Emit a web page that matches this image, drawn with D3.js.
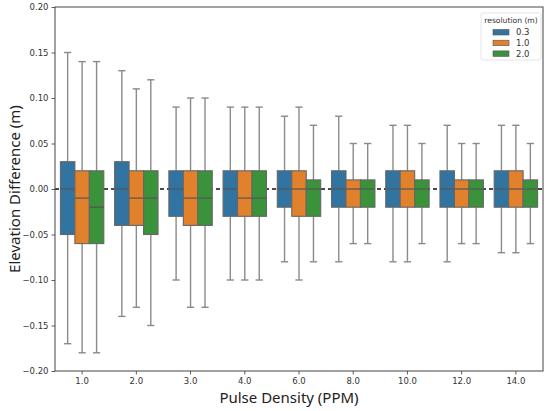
<!DOCTYPE html>
<html>
<head>
<meta charset="utf-8">
<script src="https://d3js.org/d3.v7.min.js"></script>
<style>
  body { margin: 0; background: #fff; }
  .tick text { font-family: "DejaVu Sans", sans-serif; font-size: 8.5px; fill: #333; }
</style>
</head>
<body>
<script>
// pulse density groups and resolution series
const categories = ["1.0", "2.0", "3.0", "4.0", "6.0", "8.0", "10.0", "12.0", "14.0"];
const resolutions = ["0.3", "1.0", "2.0"];
const colors = ["#3274a1", "#e1812c", "#3a923a"];

// rows = pulse density, cols = resolution 0.3 / 1.0 / 2.0
const medians = [
  [0.00, -0.01, -0.02],
  [0.00, -0.01, -0.01],
  [0.00, -0.01, -0.01],
  [0.00, -0.01, -0.01],
  [0.00, 0.00, 0.00],
  [0.00, 0.00, 0.00],
  [0.00, 0.00, 0.00],
  [0.00, 0.00, 0.00],
  [0.00, 0.00, 0.00]
];
const q1 = [
  [-0.05, -0.06, -0.06],
  [-0.04, -0.04, -0.05],
  [-0.03, -0.04, -0.04],
  [-0.03, -0.03, -0.03],
  [-0.02, -0.03, -0.03],
  [-0.02, -0.02, -0.02],
  [-0.02, -0.02, -0.02],
  [-0.02, -0.02, -0.02],
  [-0.02, -0.02, -0.02]
];
const q3 = [
  [0.03, 0.02, 0.02],
  [0.03, 0.02, 0.02],
  [0.02, 0.02, 0.02],
  [0.02, 0.02, 0.02],
  [0.02, 0.02, 0.01],
  [0.02, 0.01, 0.01],
  [0.02, 0.02, 0.01],
  [0.02, 0.01, 0.01],
  [0.02, 0.02, 0.01]
];
const whiskerLow = [
  [-0.17, -0.18, -0.18],
  [-0.14, -0.13, -0.15],
  [-0.10, -0.13, -0.13],
  [-0.10, -0.10, -0.10],
  [-0.08, -0.10, -0.08],
  [-0.08, -0.06, -0.06],
  [-0.08, -0.08, -0.06],
  [-0.08, -0.06, -0.06],
  [-0.07, -0.07, -0.06]
];
const whiskerHigh = [
  [0.15, 0.14, 0.14],
  [0.13, 0.11, 0.12],
  [0.09, 0.10, 0.10],
  [0.09, 0.09, 0.09],
  [0.08, 0.09, 0.07],
  [0.08, 0.05, 0.05],
  [0.07, 0.07, 0.05],
  [0.07, 0.05, 0.05],
  [0.07, 0.07, 0.05]
];
const yTicks = [-0.20, -0.15, -0.10, -0.05, 0.00, 0.05, 0.10, 0.15, 0.20];

let width = 550, height = 411;
let margin = {"top": 7, "right": 7, "bottom": 40, "left": 55};
let chartWidth = width - margin.left - margin.right;
let chartHeight = height - margin.top - margin.bottom;

var svg = d3.select("body").append("svg").attr("width", width).attr("height", height);
let chart = svg.append("g").attr("transform", "translate(" + margin.left + "," + margin.top + ")");

const xScale = d3.scaleBand().domain(categories).range([0, chartWidth]).padding(0);
const hueScale = d3.scaleBand().domain(resolutions).range([0, xScale.bandwidth() * 0.8]).padding(0);
const yScale = d3.scaleLinear().domain([-0.2, 0.2]).range([chartHeight, 0]);
const fmt = d => d3.format(".2f")(d).replace("-", "\u2212");

// zero reference line (behind boxes)
chart.append("line")
  .attr("x1", 0).attr("x2", chartWidth)
  .attr("y1", yScale(0)).attr("y2", yScale(0))
  .attr("stroke", "#111").attr("stroke-width", 1.3)
  .attr("stroke-dasharray", "4,3");

let rows = [];
categories.forEach((c, i) => {
  resolutions.forEach((r, j) => {
    rows.push({cat: c, res: r, j: j, med: medians[i][j], lo: q1[i][j], hi: q3[i][j],
               wl: whiskerLow[i][j], wh: whiskerHigh[i][j]});
  });
});

const bw = hueScale.bandwidth();
const groupOffset = xScale.bandwidth() * 0.1;
let boxes = chart.selectAll(".box").data(rows).enter().append("g")
  .attr("class", "box")
  .attr("transform", d => "translate(" + (xScale(d.cat) + groupOffset + hueScale(d.res)) + ",0)");

// whiskers
boxes.append("line").attr("x1", bw / 2).attr("x2", bw / 2)
  .attr("y1", d => yScale(d.hi)).attr("y2", d => yScale(d.wh))
  .attr("stroke", "#8a8a8a").attr("stroke-width", 1.4);
boxes.append("line").attr("x1", bw / 2).attr("x2", bw / 2)
  .attr("y1", d => yScale(d.lo)).attr("y2", d => yScale(d.wl))
  .attr("stroke", "#8a8a8a").attr("stroke-width", 1.4);
// caps
boxes.append("line").attr("x1", bw / 4).attr("x2", bw * 3 / 4)
  .attr("y1", d => yScale(d.wh)).attr("y2", d => yScale(d.wh))
  .attr("stroke", "#8a8a8a").attr("stroke-width", 1.4);
boxes.append("line").attr("x1", bw / 4).attr("x2", bw * 3 / 4)
  .attr("y1", d => yScale(d.wl)).attr("y2", d => yScale(d.wl))
  .attr("stroke", "#8a8a8a").attr("stroke-width", 1.4);
// box body
boxes.append("rect")
  .attr("x", 0).attr("width", bw)
  .attr("y", d => yScale(d.hi)).attr("height", d => yScale(d.lo) - yScale(d.hi))
  .attr("fill", d => colors[d.j])
  .attr("stroke", "#666").attr("stroke-width", 1.1);
// median
boxes.append("line").attr("x1", 0).attr("x2", bw)
  .attr("y1", d => yScale(d.med)).attr("y2", d => yScale(d.med))
  .attr("stroke", "#555").attr("stroke-width", 1.2);

// axes
let leftAxis = d3.axisLeft(yScale).tickValues(yTicks).tickFormat(fmt).tickSize(3.5).tickPadding(3);
let yAxisG = chart.append("g").call(leftAxis);
let bottomAxis = d3.axisBottom(xScale).tickSize(3.5).tickPadding(3);
let xAxisG = chart.append("g").attr("transform", "translate(0," + chartHeight + ")").call(bottomAxis);
[yAxisG, xAxisG].forEach(g => {
  g.select(".domain").remove();
  g.selectAll(".tick line").attr("stroke", "#333").attr("stroke-width", 0.8);
});

// frame
chart.append("rect").attr("x", 0).attr("y", 0).attr("width", chartWidth).attr("height", chartHeight)
  .attr("fill", "none").attr("stroke", "#444").attr("stroke-width", 1);

// axis titles
svg.append("text")
  .attr("x", 289).attr("y", 403)
  .attr("text-anchor", "middle")
  .style("font-family", "'Noto Sans', sans-serif").style("font-size", "15px").style("fill", "#222")
  .text("Pulse Density (PPM)");
svg.append("text")
  .attr("transform", "translate(20," + (margin.top + chartHeight / 2) + ") rotate(-90)")
  .attr("text-anchor", "middle")
  .style("font-family", "'Noto Sans', sans-serif").style("font-size", "15px").style("fill", "#222")
  .text("Elevation Difference (m)");

// legend
let legend = svg.append("g").attr("transform", "translate(481,13)");
legend.append("rect").attr("width", 60).attr("height", 47).attr("rx", 2)
  .attr("fill", "#fff").attr("fill-opacity", 0.85)
  .attr("stroke", "#ddd").attr("stroke-width", 0.8);
legend.append("text").attr("x", 30).attr("y", 9.5).attr("text-anchor", "middle")
  .style("font-family", "'DejaVu Sans', sans-serif").style("font-size", "7.6px").style("fill", "#333")
  .text("resolution (m)");
resolutions.forEach((r, j) => {
  let yy = 17 + j * 10.7;
  legend.append("rect").attr("x", 12).attr("y", yy - 0.5).attr("width", 16).attr("height", 5.5)
    .attr("fill", colors[j]).attr("stroke", "#555").attr("stroke-width", 0.6);
  legend.append("text").attr("x", 35).attr("y", yy + 5.2)
    .style("font-family", "'DejaVu Sans', sans-serif").style("font-size", "8.5px").style("fill", "#333")
    .text(r);
});
</script>
</body>
</html>
